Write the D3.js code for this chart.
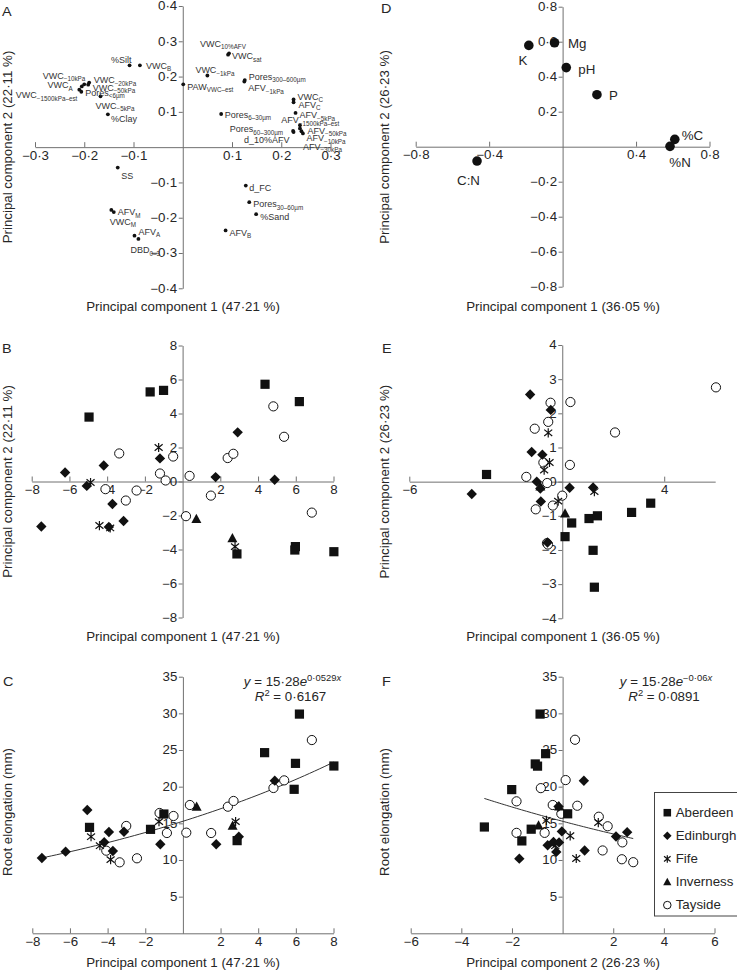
<!DOCTYPE html>
<html><head><meta charset="utf-8">
<script src="https://cdn.jsdelivr.net/npm/d3@7"></script>
<style>body{margin:0;background:#fff} svg text{font-family:"Liberation Sans",Arial,sans-serif;}</style>
</head><body><script>
// ---------------- DATA ----------------
const sites = ["Aberdeen","Edinburgh","Fife","Inverness","Tayside"];

// Panel A: loadings of soil physical variables [name, subscript, PC1, PC2]
const physVars = [
 ["%Silt","",-0.108,0.232],["VWC","B",-0.087,0.232],["VWC","−10kPa",-0.2,0.178],["VWC","A",-0.205,0.172],
 ["VWC","−20kPa",-0.19,0.183],["VWC","−50kPa",-0.192,0.177],["VWC","−1500kPa–est",-0.21,0.163],["Pores","<6µm",-0.206,0.157],
 ["VWC","−5kPa",-0.167,0.144],["%Clay","",-0.152,0.093],["PAW","VWC–est",0.001,0.178],["VWC","10%AFV",0.094,0.266],
 ["VWC","sat",0.092,0.262],["VWC","−1kPa",0.05,0.203],["Pores","300–600µm",0.126,0.19],["AFV","−1kPa",0.125,0.186],
 ["VWC","C",0.225,0.135],["AFV","C",0.225,0.127],["AFV","−5kPa",0.229,0.097],["AFV","−1500kPa–est",0.238,0.062],
 ["Pores","60–300µm",0.224,0.046],["d_10%AFV","",0.225,0.043],["AFV","−50kPa",0.238,0.053],["AFV","−10kPa",0.241,0.045],
 ["AFV","−30kPa",0.244,0.039],["Pores","6–30µm",0.078,0.094],["SS","",-0.132,-0.058],["AFV","M",-0.145,-0.178],
 ["VWC","M",-0.14,-0.184],["AFV","A",-0.098,-0.251],["DBD","0–3",-0.09,-0.26],["d_FC","",0.128,-0.109],
 ["Pores","30–60µm",0.135,-0.156],["%Sand","",0.149,-0.19],["AFV","B",0.087,-0.236]
];

// Panel D: loadings of soil chemical variables [name, PC1, PC2]
const chemVars = [["K",-0.184,0.579],["Mg",-0.044,0.594],["pH",0.02,0.452],["P",0.187,0.297],
 ["%C",0.611,0.042],["%N",0.585,0.002],["C:N",-0.466,-0.082]];

// Panel B: scores on physical PCA [site, PC1, PC2]
const scoresPhys = [
 ["Aberdeen",-4.96,3.79],["Aberdeen",-1.72,5.27],["Aberdeen",-1.01,5.36],["Aberdeen",4.37,5.72],["Aberdeen",6.19,4.7],
 ["Aberdeen",5.98,-3.83],["Aberdeen",5.95,-4.03],["Aberdeen",8.02,-4.13],["Aberdeen",2.88,-4.26],
 ["Edinburgh",-7.49,-2.65],["Edinburgh",-6.23,0.53],["Edinburgh",-5.08,-0.26],["Edinburgh",-4.18,0.94],["Edinburgh",-3.72,-1.32],
 ["Edinburgh",-3.91,-2.67],["Edinburgh",-3.13,-2.32],["Edinburgh",-1.2,1.36],["Edinburgh",1.75,0.26],["Edinburgh",2.92,2.89],["Edinburgh",4.88,0.1],
 ["Fife",-4.88,-0.06],["Fife",-4.41,-2.59],["Fife",-3.84,-2.73],["Fife",-1.27,2.0],["Fife",2.78,-3.83],
 ["Inverness",0.73,-2.2],["Inverness",2.64,-3.34],
 ["Tayside",-3.36,1.65],["Tayside",-4.09,-0.45],["Tayside",-3.01,-1.12],["Tayside",-2.44,-0.53],["Tayside",-1.2,0.47],
 ["Tayside",-0.9,0.06],["Tayside",-0.5,1.47],["Tayside",0.37,0.33],["Tayside",0.18,-2.04],["Tayside",1.5,-0.83],
 ["Tayside",2.39,1.38],["Tayside",2.69,1.63],["Tayside",4.81,4.42],["Tayside",5.38,2.63],["Tayside",6.85,-1.83]
];

// Panel E: scores on chemical PCA [site, PC1, PC2]
const scoresChem = [
 ["Aberdeen",-2.97,0.21],["Aberdeen",0.11,-1.61],["Aberdeen",0.37,-1.21],["Aberdeen",1.05,-1.08],["Aberdeen",1.38,-1.0],
 ["Aberdeen",1.21,-2.01],["Aberdeen",1.26,-3.09],["Aberdeen",2.72,-0.9],["Aberdeen",3.47,-0.63],
 ["Edinburgh",-3.55,-0.36],["Edinburgh",-1.26,2.55],["Edinburgh",-0.45,2.1],["Edinburgh",-1.2,0.87],["Edinburgh",-0.78,0.79],
 ["Edinburgh",-1.0,0.0],["Edinburgh",-0.86,-0.2],["Edinburgh",-0.84,-0.58],["Edinburgh",-0.58,-1.78],["Edinburgh",0.29,-0.18],["Edinburgh",1.21,-0.17],
 ["Fife",-0.55,1.43],["Fife",-0.5,0.56],["Fife",-0.71,0.34],["Fife",-0.16,-0.57],["Fife",1.26,-0.29],
 ["Inverness",0.11,-0.93],["Inverness",-0.86,-0.14],
 ["Tayside",6.03,2.76],["Tayside",2.07,1.44],["Tayside",0.32,2.33],["Tayside",-0.46,2.31],["Tayside",-0.55,1.75],
 ["Tayside",-1.08,1.55],["Tayside",-0.74,0.56],["Tayside",0.3,0.49],["Tayside",-1.41,0.14],["Tayside",-0.59,-0.04],
 ["Tayside",0.0,-0.41],["Tayside",-0.37,-0.7],["Tayside",-1.04,-0.81],["Tayside",-0.6,-1.8],["Tayside",-0.56,-1.84]
];

// Panel C: root elongation (mm) vs physical PC1 [site, PC1, root]
const rootVsPhys = [
 ["Aberdeen",-4.96,14.45],["Aberdeen",-1.72,14.18],["Aberdeen",-1.01,16.27],["Aberdeen",4.34,24.64],["Aberdeen",5.98,23.18],
 ["Aberdeen",5.91,19.64],["Aberdeen",6.19,29.9],["Aberdeen",8.02,22.82],["Aberdeen",2.88,12.64],
 ["Edinburgh",-7.49,10.27],["Edinburgh",-6.23,11.14],["Edinburgh",-5.08,16.82],["Edinburgh",-4.18,12.41],["Edinburgh",-3.93,13.82],
 ["Edinburgh",-3.72,11.23],["Edinburgh",-3.13,13.86],["Edinburgh",-1.2,12.14],["Edinburgh",1.77,12.14],["Edinburgh",2.97,13.18],["Edinburgh",4.88,20.82],
 ["Fife",-4.88,13.18],["Fife",-4.41,11.95],["Fife",-3.84,10.05],["Fife",-1.27,15.23],["Fife",2.8,15.23],
 ["Inverness",0.73,17.27],["Inverness",2.64,14.68],
 ["Tayside",-4.07,11.27],["Tayside",-3.36,9.68],["Tayside",-3.01,14.64],["Tayside",-2.44,10.23],["Tayside",-1.24,16.41],
 ["Tayside",-0.85,13.68],["Tayside",-0.5,16.0],["Tayside",0.18,13.73],["Tayside",0.37,17.5],["Tayside",1.5,13.68],
 ["Tayside",2.39,17.27],["Tayside",2.69,18.05],["Tayside",4.81,19.82],["Tayside",5.38,20.86],["Tayside",6.85,26.36]
];

// Panel F: root elongation (mm) vs chemical PC2 [site, PC2, root]
const rootVsChem = [
 ["Aberdeen",-0.89,29.9],["Aberdeen",-0.67,24.5],["Aberdeen",-1.08,23.1],["Aberdeen",-0.99,22.8],["Aberdeen",-2.01,19.6],
 ["Aberdeen",-3.09,14.5],["Aberdeen",-1.24,14.2],["Aberdeen",-1.61,12.6],["Aberdeen",0.2,16.3],
 ["Edinburgh",-1.71,10.18],["Edinburgh",0.84,20.8],["Edinburgh",-0.16,17.3],["Edinburgh",-0.03,13.9],["Edinburgh",-0.59,12.0],
 ["Edinburgh",-0.36,12.45],["Edinburgh",-0.14,12.4],["Edinburgh",-0.25,11.1],["Edinburgh",0.87,11.3],["Edinburgh",2.11,13.2],["Edinburgh",2.55,13.8],
 ["Fife",-0.64,15.4],["Fife",0.3,13.3],["Fife",0.54,10.2],["Fife",1.41,15.1],["Fife",-0.29,11.95],
 ["Inverness",-0.14,17.3],["Inverness",-0.95,14.7],
 ["Tayside",0.49,26.4],["Tayside",0.12,20.9],["Tayside",-0.86,19.8],["Tayside",-1.82,18.0],["Tayside",-0.39,17.5],
 ["Tayside",0.58,17.4],["Tayside",1.43,15.9],["Tayside",1.78,14.6],["Tayside",-1.82,13.7],["Tayside",-0.71,13.7],
 ["Tayside",1.58,11.3],["Tayside",2.36,12.4],["Tayside",2.34,10.1],["Tayside",2.79,9.7],["Tayside",-0.05,16.3]
];

// Fitted exponential curves y = a*e^(b*x) over the x-range of the data
const fitC = {a:15.28, b:0.0529, from:-7.49, to:8.02, eq:"0·0529", r2:"0·6167"};
const fitF = {a:15.28, b:-0.06, from:-3.09, to:2.79, eq:"−0·06", r2:"0·0891"};

// Tick values
const ticksA = {x:[-0.3,-0.2,-0.1,0.1,0.2,0.3], y:[0.4,0.3,0.2,0.1,-0.1,-0.2,-0.3,-0.4]};
const ticksD = {x:[-0.8,-0.4,0.4,0.8], y:[0.8,0.6,0.4,0.2,-0.2,-0.4,-0.6,-0.8]};
const ticksB = {x:[-8,-6,-4,-2,2,4,6,8], y:[8,6,4,2,0,-2,-4,-6,-8]};
const ticksE = {x:[-6,4], y:[4,3,2,1,0,-1,-2,-3,-4]};
const ticksC = {x:[-8,-6,-4,-2,2,4,6,8], y:[5,10,15,20,25,30,35]};
const ticksF = {x:[-6,-4,-2,2,4,6], y:[5,10,15,20,25,30,35]};

// ---------------- LAYOUT ----------------
// label offsets for panel A (dx, dy of text centre, anchor), aligned with physVars
const physLabelPos = [
 [2,-5.7,"end"],[6,0.5,"start"],[1,-9,"end"],[-9,-1.5,"end"],[4.5,-2.5,"start"],[4.5,3,"start"],[-2,5.5,"end"],[4,1,"start"],
 [-5,9,"start"],[3,4,"start"],[4,2,"start"],[-29,-9.5,"start"],[4,1.5,"start"],[-12,-5.5,"start"],[4,-3.5,"start"],[4,6.5,"start"],
 [4,-3,"start"],[5,2,"start"],[4,2,"start"],[-18.7,-5,"start"],[-10,-2,"end"],[-4,8,"end"],[7.5,2,"start"],[5,7,"start"],
 [0,13,"start"],[3.5,0.5,"start"],[3.5,7.7,"start"],[6.5,2,"start"],[-4,9.5,"start"],[4,-4,"start"],[-8,11,"start"],
 [3.5,2.4,"start"],[4,2,"start"],[4,2.7,"start"],[4,2.4,"start"]
];
const chemLabelPos = [[-6,15,"middle"],[13.5,0.6,"start"],[12,1.7,"start"],[12,0.7,"start"],[7,-3.7,"start"],[-0.7,16,"start"],[-20,19.7,"start"]];

const SX = 1.11, FS = 12, AX = "#707070", TX = "#262626", INK = "#111";
const svg = d3.select("body").append("svg").attr("width",737).attr("height",970);

function txt(g, x, y, str, o = {}) {
  const t = g.append("text")
    .attr("transform", `translate(${x},${y})${o.rotate ? ` rotate(${o.rotate})` : ""} scale(${o.sx ?? SX},1)`)
    .attr("text-anchor", o.anchor || "start").attr("font-size", o.size || FS).attr("fill", o.fill || TX);
  if (str !== null) t.text(str);
  return t;
}
const fmtDec = d => d3.format(".1f")(d).replace(".", "·");
const fmtInt = d => d3.format("d")(d);

function axes(g, x, y, o) {
  const xa = d3.axisBottom(x).tickValues(o.xt).tickFormat(o.xf).tickSizeInner(-5).tickSizeOuter(0).tickPadding(4);
  const ya = d3.axisLeft(y).tickValues(o.yt).tickFormat(o.yf).tickSizeInner(4).tickSizeOuter(0).tickPadding(2);
  const gx = g.append("g").attr("transform", `translate(0,${y(o.xAt)})`).call(xa);
  const gy = g.append("g").attr("transform", `translate(${x(o.yAt)},0)`).call(ya);
  [gx, gy].forEach(a => {
    a.attr("font-family", null).attr("font-size", null);
    a.select(".domain").attr("stroke", AX);
    a.selectAll(".tick line").attr("stroke", AX);
    a.selectAll(".tick text").attr("font-size", FS).attr("fill", TX).attr("transform", `scale(${SX},1)`);
  });
  gy.selectAll(".tick text").attr("x", -5.5 / SX);
}

function sym(g, site, s = 1) {
  if (site === "Aberdeen") g.append("rect").attr("x",-4.6*s).attr("y",-4.6*s).attr("width",9.2*s).attr("height",9.2*s).attr("fill",INK);
  else if (site === "Edinburgh") g.append("path").attr("d",`M0,${-5.2*s}L${5.2*s},0L0,${5.2*s}L${-5.2*s},0Z`).attr("fill",INK);
  else if (site === "Inverness") g.append("path").attr("d",`M0,${-5.2*s}L${5*s},${4*s}L${-5*s},${4*s}Z`).attr("fill",INK);
  else if (site === "Tayside") g.append("circle").attr("r",4.6*s).attr("fill","#fff").attr("stroke",INK).attr("stroke-width",1);
  else g.append("path").attr("d",`M0,${-4.6*s}V${4.6*s}M${-4*s},${-3.2*s}L${4*s},${3.2*s}M${-4*s},${3.2*s}L${4*s},${-3.2*s}`)
        .attr("stroke",INK).attr("stroke-width",1.2).attr("fill","none");
}
const drawOrder = ["Tayside","Inverness","Fife","Aberdeen","Edinburgh"];
function scores(g, data, x, y) {
  const sorted = data.slice().sort((a,b) => drawOrder.indexOf(a[0]) - drawOrder.indexOf(b[0]));
  g.append("g").selectAll("g").data(sorted).join("g")
    .attr("transform", d => `translate(${x(d[1])},${y(d[2])})`)
    .each(function(d){ sym(d3.select(this), d[0]); });
}
function fitLine(g, f, x, y) {
  const xs = d3.range(0, 61).map(i => f.from + (f.to - f.from) * i / 60);
  g.append("path").datum(xs).attr("fill","none").attr("stroke","#333").attr("stroke-width",1)
    .attr("d", d3.line().x(v => x(v)).y(v => y(f.a * Math.exp(f.b * v))));
}
function eqText(g, cx, y1, y2, f) {
  const t = txt(g, cx, y1, null, {anchor:"middle"});
  t.append("tspan").attr("font-style","italic").text("y");
  t.append("tspan").text(" = 15·28");
  t.append("tspan").attr("font-style","italic").text("e");
  t.append("tspan").attr("font-size",8.5).attr("dy",-5).text(f.eq);
  t.append("tspan").attr("font-size",8.5).attr("font-style","italic").text("x");
  const r = txt(g, cx - 2, y2, null, {anchor:"middle"});
  r.append("tspan").attr("font-style","italic").text("R");
  r.append("tspan").attr("font-size",8.5).attr("dy",-5).text("2");
  r.append("tspan").attr("dy",5).text(" = " + f.r2);
}

// ---------------- PANEL A ----------------
{
  const g = svg.append("g");
  const x = d3.scaleLinear([-0.3,0.3],[35,330.5]), y = d3.scaleLinear([-0.4,0.4],[288.3,6]);
  axes(g, x, y, {xt:ticksA.x, yt:ticksA.y, xf:fmtDec, yf:fmtDec, xAt:0, yAt:0});
  g.append("g").selectAll("circle").data(physVars).join("circle")
    .attr("cx", d => x(d[2])).attr("cy", d => y(d[3])).attr("r", 1.9).attr("fill", INK);
  physVars.forEach((d,i) => {
    const [dx, dy, an] = physLabelPos[i];
    const t = txt(g, x(d[2]) + dx, y(d[3]) + dy + 3.2, null, {anchor:an, size:9, sx:1, fill:"#333"});
    t.append("tspan").text(d[0]);
    if (d[1]) t.append("tspan").attr("font-size",6.3).attr("dy",2.4).text(d[1]);
  });
  txt(g, 183, 311, "Principal component 1 (47·21 %)", {anchor:"middle"});
  txt(g, 12, 147, "Principal component 2 (22·11 %)", {anchor:"middle", rotate:-90});
  txt(g, 2, 15.5, "A", {size:13});
}
// ---------------- PANEL D ----------------
{
  const g = svg.append("g");
  const x = d3.scaleLinear([-0.8,0.8],[415.7,709.5]), y = d3.scaleLinear([-0.8,0.8],[286.7,6.7]);
  axes(g, x, y, {xt:ticksD.x, yt:ticksD.y, xf:fmtDec, yf:fmtDec, xAt:0, yAt:0});
  g.append("g").selectAll("circle").data(chemVars).join("circle")
    .attr("cx", d => x(d[1])).attr("cy", d => y(d[2])).attr("r", 4.8).attr("fill", INK);
  chemVars.forEach((d,i) => {
    const [dx, dy, an] = chemLabelPos[i];
    txt(g, x(d[1]) + dx, y(d[2]) + dy + 4.3, d[0], {anchor:an});
  });
  txt(g, 563, 311, "Principal component 1 (36·05 %)", {anchor:"middle"});
  txt(g, 388.5, 147, "Principal component 2 (26·23 %)", {anchor:"middle", rotate:-90});
  txt(g, 381, 13, "D", {size:13});
}
// ---------------- PANEL B ----------------
{
  const g = svg.append("g");
  const x = d3.scaleLinear([-8,8],[31.7,333.5]), y = d3.scaleLinear([-8,8],[617.5,345.5]);
  axes(g, x, y, {xt:ticksB.x, yt:ticksB.y, xf:fmtInt, yf:fmtInt, xAt:0, yAt:0});
  scores(g, scoresPhys, x, y);
  txt(g, 183, 641.3, "Principal component 1 (47·21 %)", {anchor:"middle"});
  txt(g, 12, 481.5, "Principal component 2 (22·11 %)", {anchor:"middle", rotate:-90});
  txt(g, 2, 352.5, "B", {size:13});
}
// ---------------- PANEL E ----------------
{
  const g = svg.append("g");
  const x = d3.scaleLinear([-6,6],[409.3,715.2]), y = d3.scaleLinear([-4,4],[618.3,345]);
  axes(g, x, y, {xt:ticksE.x, yt:ticksE.y, xf:fmtInt, yf:fmtInt, xAt:0, yAt:0});
  scores(g, scoresChem, x, y);
  txt(g, 563, 641.3, "Principal component 1 (36·05 %)", {anchor:"middle"});
  txt(g, 388.5, 481.7, "Principal component 2 (26·23 %)", {anchor:"middle", rotate:-90});
  txt(g, 382, 352.5, "E", {size:13});
}
// ---------------- PANEL C ----------------
{
  const g = svg.append("g");
  const x = d3.scaleLinear([-8,8],[32.3,333.5]), y = d3.scaleLinear([0,35],[933.3,676.7]);
  axes(g, x, y, {xt:ticksC.x, yt:ticksC.y, xf:fmtInt, yf:fmtInt, xAt:0, yAt:0});
  fitLine(g, fitC, x, y);
  scores(g, rootVsPhys, x, y);
  eqText(g, 292.5, 686, 701, fitC);
  txt(g, 183, 967.3, "Principal component 1 (47·21 %)", {anchor:"middle"});
  txt(g, 12, 812, "Root elongation (mm)", {anchor:"middle", rotate:-90});
  txt(g, 3, 686, "C", {size:13});
}
// ---------------- PANEL F ----------------
{
  const g = svg.append("g");
  const x = d3.scaleLinear([-6,6],[410.7,714.5]), y = d3.scaleLinear([0,35],[933.3,676.7]);
  axes(g, x, y, {xt:ticksF.x, yt:ticksF.y, xf:fmtInt, yf:fmtInt, xAt:0, yAt:0});
  fitLine(g, fitF, x, y);
  scores(g, rootVsChem, x, y);
  eqText(g, 666, 686, 701, fitF);
  txt(g, 563, 967.3, "Principal component 2 (26·23 %)", {anchor:"middle"});
  txt(g, 388.5, 812, "Root elongation (mm)", {anchor:"middle", rotate:-90});
  txt(g, 382, 686, "F", {size:13});
  // legend
  const lg = g.append("g");
  lg.append("rect").attr("x",654.5).attr("y",792.5).attr("width",84).attr("height",123.5)
    .attr("fill","#fff").attr("stroke","#444").attr("stroke-width",1);
  sites.forEach((s,i) => {
    const yy = 812.7 + i * 23.1;
    const sg = lg.append("g").attr("transform", `translate(667.3,${yy})`);
    sym(sg, s, 0.82);
    txt(lg, 675.7, yy + 4.3, s);
  });
}
</script></body></html>
